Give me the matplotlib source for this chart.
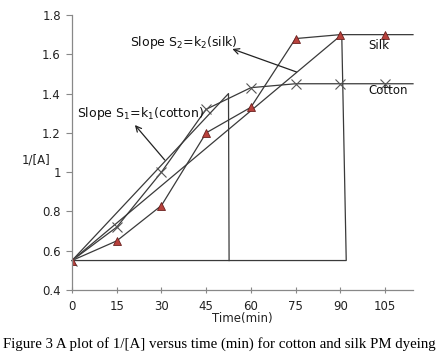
import matplotlib
matplotlib.use("Agg")
import matplotlib.pyplot as plt

# data
time = [0, 15, 30, 45, 60, 75, 90, 105]
cotton = [0.55, 0.72, 1.00, 1.32, 1.43, 1.45, 1.45, 1.45]
silk = [0.55, 0.65, 0.83, 1.20, 1.33, 1.68, 1.70, 1.70]
# curves run on to the right edge of the plot
t_end = 114.4
cotton_end = 1.45
silk_end = 1.70

# slope construction lines
cot_slope_x = [0, 52.5, 52.7]
cot_slope_y = [0.55, 1.40, 0.55]
silk_slope_x = [0, 90.5, 92.0, 0]
silk_slope_y = [0.55, 1.70, 0.55, 0.55]

fig = plt.figure(figsize=(4.43, 3.55), dpi=100)
ax = fig.add_axes([72 / 443, 1 - 290 / 355, (413 - 72) / 443, (290 - 15) / 355])

lc = "#3a3a3a"
ax.plot(cot_slope_x, cot_slope_y, color=lc, lw=0.9)
ax.plot(silk_slope_x, silk_slope_y, color=lc, lw=0.9)
ax.plot(time + [t_end], cotton + [cotton_end], color=lc, lw=0.9, clip_on=False)
ax.plot(time + [t_end], silk + [silk_end], color=lc, lw=0.9, clip_on=False)
ax.plot(time, cotton, ls="none", marker="x", ms=7, mew=0.8, color="#555555")
ax.plot(time, silk, ls="none", marker="^", ms=6, mfc="#b8413c", mec="#6b2220", mew=0.6)

ax.set_xlim(0, t_end)
ax.set_ylim(0.4, 1.8)
ax.set_xticks(time)
ax.set_yticks([0.4, 0.6, 0.8, 1.0, 1.2, 1.4, 1.6, 1.8])
ax.set_yticklabels(["0.4", "0.6", "0.8", "1", "1.2", "1.4", "1.6", "1.8"])
for s in ["top", "right"]:
    ax.spines[s].set_visible(False)
for s in ["left", "bottom"]:
    ax.spines[s].set_color("#888888")
    ax.spines[s].set_linewidth(0.9)
ax.tick_params(axis="y", direction="out", length=4, color="#888888", labelsize=8.5, pad=4,
               labelcolor="#222222")
ax.tick_params(axis="x", direction="inout", length=5, color="#888888", labelsize=8.5, pad=5,
               labelcolor="#222222")

ax.set_xlabel("Time(min)", fontsize=8.5, color="#222222", labelpad=-1)
ax.text(-0.105, 0.473, "1/[A]", transform=ax.transAxes, fontsize=8.5,
        color="#222222", ha="center", va="center")

tc = "#111111"
ax.text(19.4, 1.658, "Slope S$_2$=k$_2$(silk)", fontsize=9, color=tc, va="center")
ax.annotate("", xy=(53.8, 1.627), xytext=(75.3, 1.51),
            arrowprops=dict(arrowstyle="->", color="#222222", lw=0.9, shrinkA=0, shrinkB=0))
ax.text(1.7, 1.296, "Slope S$_1$=k$_1$(cotton)", fontsize=9, color=tc, va="center")
ax.annotate("", xy=(21.1, 1.24), xytext=(31.1, 1.062),
            arrowprops=dict(arrowstyle="->", color="#222222", lw=0.9, shrinkA=0, shrinkB=0))
ax.text(99.5, 1.647, "Silk", fontsize=8.5, color=tc, va="center")
ax.text(99.5, 1.418, "Cotton", fontsize=8.5, color=tc, va="center")

fig.text(0.006, 1 - 344 / 355, "Figure 3 A plot of 1/[A] versus time (min) for cotton and silk PM dyeing",
         fontsize=10.7, family="Liberation Serif", va="center", ha="left")

fig.savefig("out.png", dpi=100)
